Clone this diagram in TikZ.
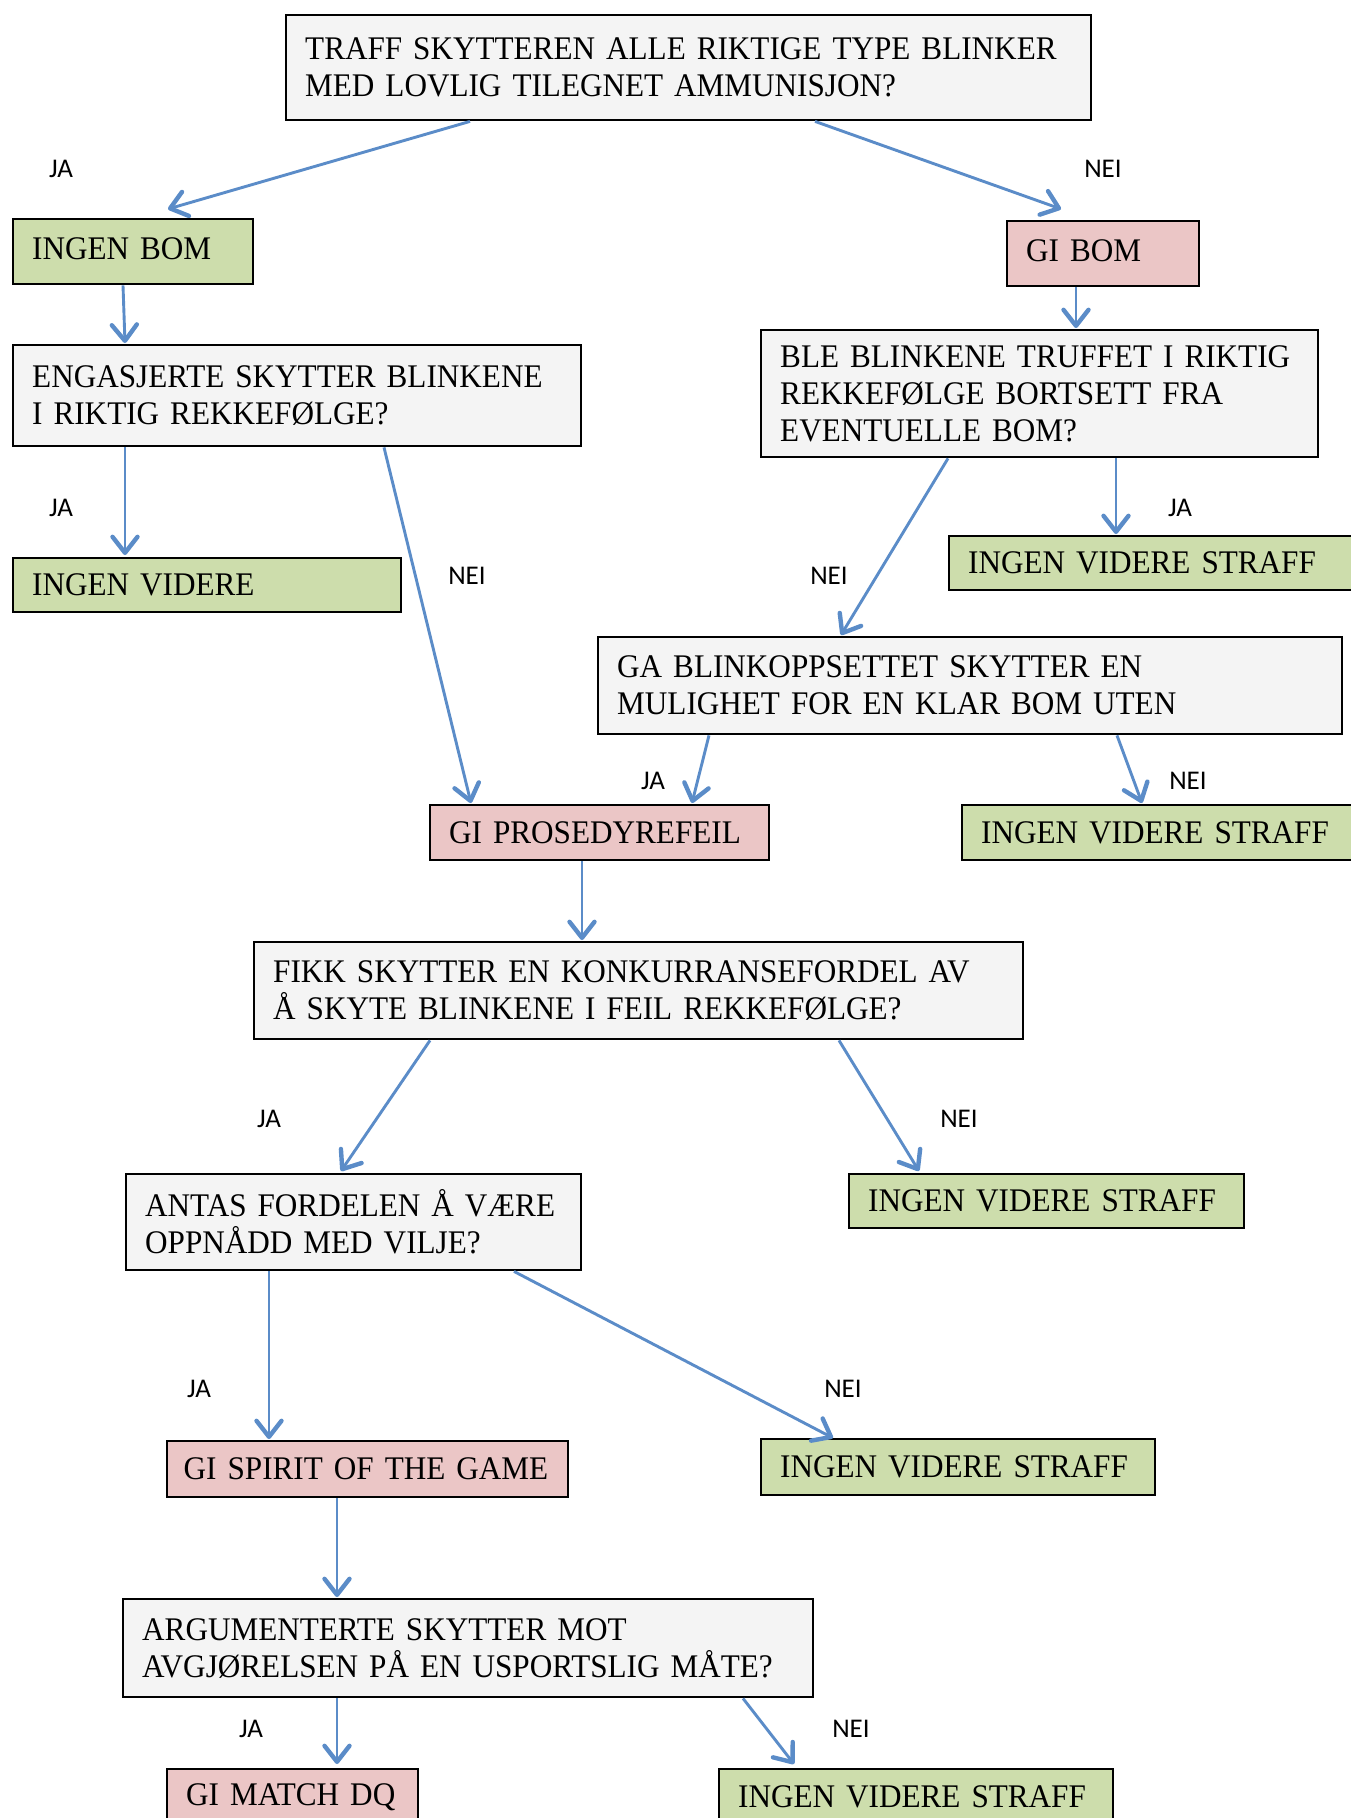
\documentclass[tikz,border=0pt]{standalone}
\usepackage{fontspec}
\setmainfont{Liberation Serif}[FakeStretch=0.945]
\newfontfamily\svarfont{Carlito}
\usetikzlibrary{arrows.meta}
\usetikzlibrary{positioning}
\definecolor{spmgraa}{HTML}{F4F4F4}
\definecolor{jagronn}{HTML}{CDDDAC}
\definecolor{neirod}{HTML}{EBC6C6}
\definecolor{pilblaa}{HTML}{5B8CC8}

\begin{document}
\begin{tikzpicture}[x=1pt, y=-1pt,
    boks/.style 2 args={draw=black, line width=2.4pt, anchor=north west,
        inner xsep=19pt, inner ysep=0pt, align=left,
        text width=#1pt, minimum height=#2pt,
        font=\fontsize{33}{37}\selectfont},
    spm/.style 2 args={boks={#1}{#2}, fill=spmgraa},
    gronn/.style 2 args={boks={#1}{#2}, fill=jagronn},
    rod/.style 2 args={boks={#1}{#2}, fill=neirod},
    svar/.style={font=\svarfont\fontsize{27}{31}\selectfont},
    pil/.style={draw=pilblaa, line width=2.9pt,
        -{Straight Barb[length=16pt, width=25pt, line width=4.4pt, round]}}]

    \useasboundingbox (0,0) rectangle (1350,1818);

    % Spoersmaal og utfall
    \node[spm={767}{105}] (traff) at (285,14)
        {TRAFF SKYTTEREN ALLE RIKTIGE TYPE BLINKER\\MED LOVLIG TILEGNET AMMUNISJON?};
    \node[gronn={202}{65}, text depth=7pt] (ingenbom) at (12,218) {INGEN BOM};
    \node[rod={154}{65}, text depth=7pt] (gibom) at (1006,220) {GI BOM};
    \node[spm={530}{101}] (engasjerte) at (12,344)
        {ENGASJERTE SKYTTER BLINKENE\\I RIKTIG REKKEFØLGE?};
    \node[spm={519}{127}] (ble) at (760,329)
        {BLE BLINKENE TRUFFET I RIKTIG\\REKKEFØLGE BORTSETT FRA\\EVENTUELLE BOM?};
    \node[gronn={350}{54}] (ingenvidere) at (12,557) {INGEN VIDERE};
    \node[gronn={381}{54}] (straffa) at (948,535) {INGEN VIDERE STRAFF};
    \node[spm={706}{97}] (ga) at (597,636)
        {GA BLINKOPPSETTET SKYTTER EN\\MULIGHET FOR EN KLAR BOM UTEN};
    \node[rod={301}{55}] (prosedyre) at (429,804) {GI PROSEDYREFEIL};
    \node[gronn={361}{55}] (straffb) at (961,804) {INGEN VIDERE STRAFF};
    \node[spm={731}{97}] (fikk) at (253,941)
        {FIKK SKYTTER EN KONKURRANSEFORDEL AV\\Å SKYTE BLINKENE I FEIL REKKEFØLGE?};
    \node[spm={417}{96}] (antas) at (125,1173)
        {ANTAS FORDELEN Å VÆRE\\OPPNÅDD MED VILJE?};
    \node[gronn={357}{54}] (straffc) at (848,1173) {INGEN VIDERE STRAFF};
    \node[rod={368}{56}, inner xsep=16.5pt] (spirit) at (166,1440) {GI SPIRIT OF THE GAME};
    \node[gronn={356}{56}] (straffd) at (760,1438) {INGEN VIDERE STRAFF};
    \node[spm={652}{98}] (arg) at (122,1598)
        {ARGUMENTERTE SKYTTER MOT\\AVGJØRELSEN PÅ EN USPORTSLIG MÅTE?};
    \node[rod={213}{56}] (matchdq) at (166,1768) {GI MATCH DQ};
    \node[gronn={356}{56}] (straffe) at (718,1768) {INGEN VIDERE STRAFF};

    % Piler: fra / avstand / til / avstand / luke
    \foreach \fra/\fx/\til/\tx/\luke in {traff/185/ingenbom/156/9, traff/530/gibom/55/11,
        ingenbom/111/engasjerte/113/1, gibom/70/ble/316/1,
        engasjerte/113/ingenvidere/113/2, engasjerte/372/prosedyre/42/1,
        ble/188/ga/244/1, ble/356/straffa/168/1,
        ga/112/prosedyre/263/1, ga/520/straffb/181/1,
        prosedyre/153/fikk/329/1, fikk/177/antas/216/2, fikk/586/straffc/71/2,
        antas/144/spirit/103/1, antas/389/straffd/73/0,
        spirit/171/arg/215/1, arg/215/matchdq/171/4, arg/621/straffe/76/4} {
        \draw[pil] ([xshift=\fx pt]\fra.south west) -- ([xshift=\tx pt, yshift=\luke pt]\til.north west);
    }

    % Svar ved pilene
    \foreach \x/\y/\tekst/\navn in {61/169/JA/jaa, 1103/169/NEI/neia,
        61/508/JA/jab, 467/576/NEI/neib, 829/576/NEI/neic, 1180/508/JA/jac,
        653/781/JA/jad, 1188/781/NEI/neid, 269/1119/JA/jae, 959/1119/NEI/neie,
        199/1389/JA/jaf, 843/1389/NEI/neif, 251/1729/JA/jag, 851/1729/NEI/neig} {
        \node[svar] (\navn) at (\x,\y) {\tekst};
    }
\end{tikzpicture}
\end{document}
